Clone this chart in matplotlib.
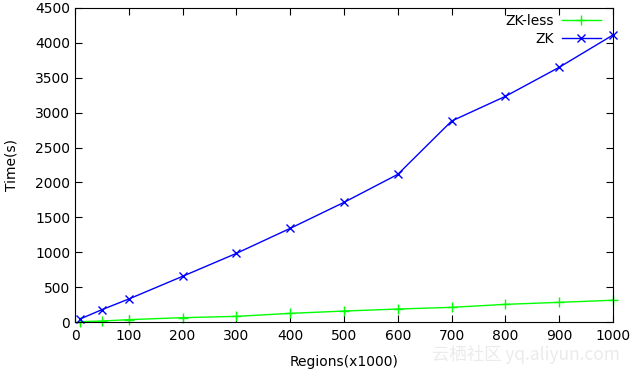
import numpy as np
import matplotlib.pyplot as plt

regions = [10, 50, 100, 200, 300, 400, 500, 600, 700, 800, 900, 1000]
zk_less = [5, 14, 34, 62, 81, 124, 157, 186, 210, 253, 282, 312]
zk = [45, 177, 330, 655, 984, 1342, 1715, 2116, 2880, 3234, 3650, 4113]

fig = plt.figure(figsize=(6.31, 3.73), dpi=100)
ax = fig.add_axes([0.1189, 0.1367, 0.8526, 0.8419])

ax.plot(regions, zk_less, color='#00ff00', lw=1, marker='+', ms=7, mew=1,
        label='ZK-less', clip_on=False)
ax.plot(regions, zk, color='#0000ff', lw=1, marker='x', ms=6, mew=1,
        label='ZK', clip_on=False)

ax.set_xlim(0, 1000)
ax.set_ylim(0, 4500)
ax.set_xticks(np.arange(0, 1001, 100))
ax.set_yticks(np.arange(0, 4501, 500))
ax.tick_params(direction='in', top=True, right=True, length=5, labelsize=10)
ax.tick_params(axis='x', pad=5)
ax.set_xlabel('Regions(x1000)', fontsize=10, labelpad=9)
ax.set_ylabel('Time(s)', fontsize=10, labelpad=12)

ax.legend(loc='upper right', bbox_to_anchor=(0.985, 0.995), frameon=False,
          markerfirst=False, fontsize=10, handlelength=2.8, borderaxespad=0,
          borderpad=0.3, labelspacing=0.3, handletextpad=0.6)

# faint watermark
fig.text(0.983, 0.025, '云栖社区 yq.aliyun.com', ha='right', va='bottom',
         fontsize=12.5, color='#ebebeb', family=['Noto Sans CJK SC', 'DejaVu Sans'])

fig.savefig('out.png', dpi=100)
